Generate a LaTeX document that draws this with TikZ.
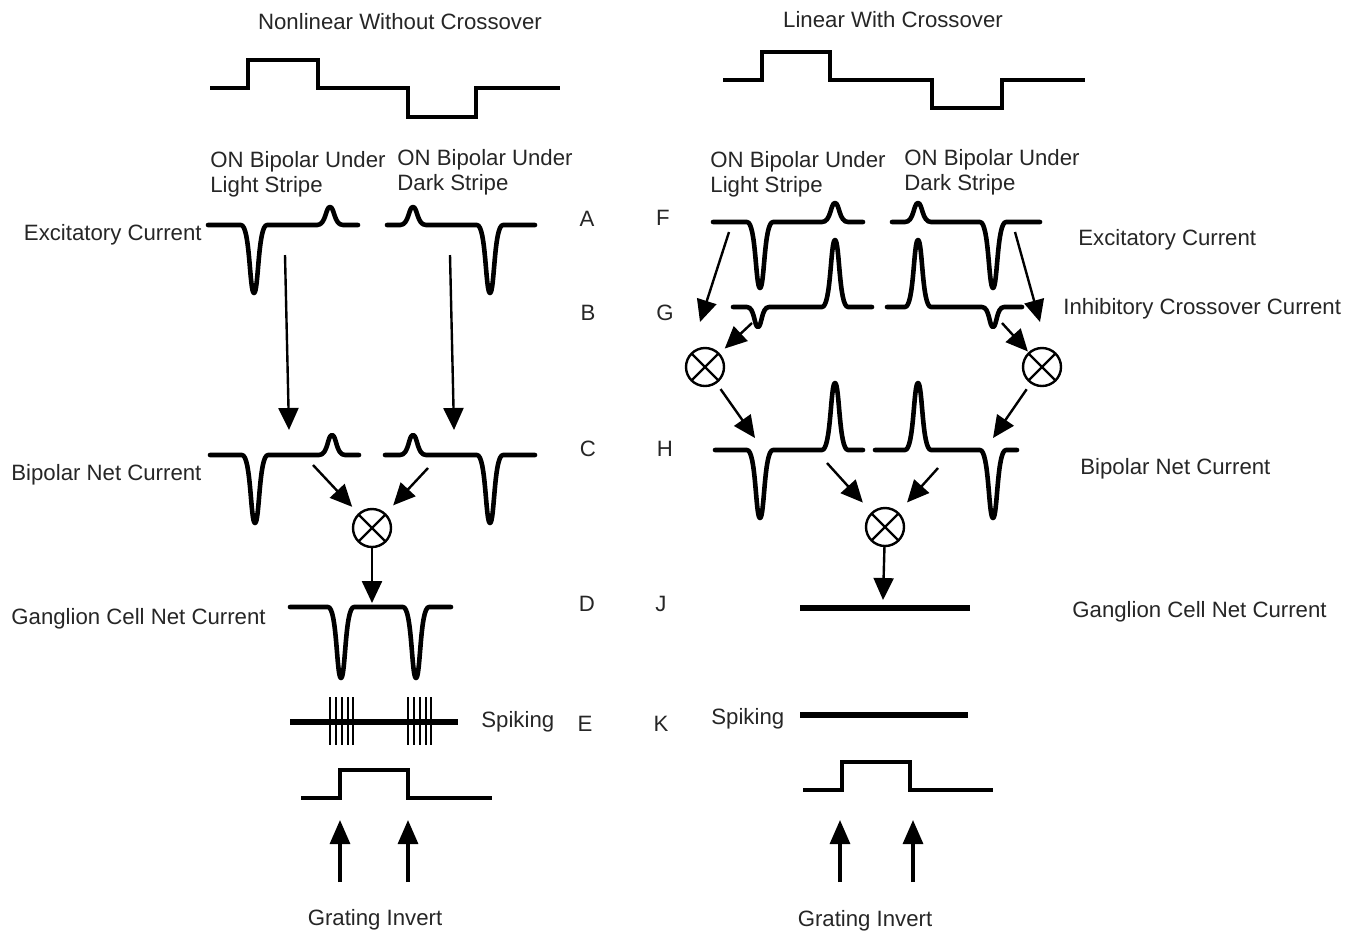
\documentclass[tikz,border=0pt]{standalone}
\usepackage{fontspec}
\setmainfont{Liberation Sans}
\usetikzlibrary{arrows.meta}
\newcommand\wv[4]{-- ({#1-#4},#2) .. controls ({#1-0.3*#4},#2) and ({#1-0.35*#4},#3) .. (#1,#3) .. controls ({#1+0.35*#4},#3) and ({#1+0.3*#4},#2) .. ({#1+#4},#2)}
\begin{document}
\begin{tikzpicture}[x=0.5pt,y=-0.5pt,
  trace/.style={line width=2.3pt,line join=round,line cap=round},
  stim/.style={line width=2pt,line join=miter},
  arr/.style={line width=1.2pt,-{Triangle[length=11pt,width=10pt]}},
  garr/.style={line width=1.6pt,-{Triangle[length=12pt,width=10pt]}},
  ox/.style={circle,draw,line width=1.2pt,minimum size=19pt,inner sep=0pt,outer sep=0pt},
  lbl/.style={font=\fontsize{11.1}{12.5}\selectfont,inner sep=0pt,text=black!85},
  lblw/.style={lbl,anchor=west,align=left}]
\fill[white] (0,0) rectangle (1358,934);
% titles
\node[lbl] (t1) at (400,22) {Nonlinear Without Crossover};
\node[lbl] (t2) at (893,20) {Linear With Crossover};
% stimuli
\draw[stim] (210,88) -- (248,88) -- (248,60) -- (318,60) -- (318,88) -- (408,88) -- (408,117) -- (476,117) -- (476,88) -- (560,88);
\draw[stim] (723,80) -- (762,80) -- (762,52) -- (830,52) -- (830,80) -- (932,80) -- (932,108) -- (1002,108) -- (1002,80) -- (1085,80);
% bipolar headers
\node[lblw] (h1) at (210,174) {ON Bipolar Under\\Light Stripe};
\node[lblw] (h2) at (397,172) {ON Bipolar Under\\Dark Stripe};
\node[lblw] (h3) at (710,174) {ON Bipolar Under\\Light Stripe};
\node[lblw] (h4) at (904,172) {ON Bipolar Under\\Dark Stripe};
% row letters
\node[lbl] (lA) at (587,219) {A};
\node[lbl] (lB) at (588,313) {B};
\node[lbl] (lC) at (588,449) {C};
\node[lbl] (lD) at (587,604) {D};
\node[lbl] (lE) at (585,724) {E};
\node[lbl] (lF) at (663,218) {F};
\node[lbl] (lG) at (665,313) {G};
\node[lbl] (lH) at (665,449) {H};
\node[lbl] (lJ) at (661,604) {J};
\node[lbl] (lK) at (661,724) {K};
% side labels
\node[lbl,anchor=east] (x1) at (202,235) {Excitatory Current};
\node[lbl,anchor=west] (x2) at (11,475) {Bipolar Net Current};
\node[lbl,anchor=west] (x3) at (11,619) {Ganglion Cell Net Current};
\node[lbl,anchor=west] (x4) at (1078,240) {Excitatory Current};
\node[lbl,anchor=west] (x5) at (1063,309) {Inhibitory Crossover Current};
\node[lbl,anchor=west] (x6) at (1080,469) {Bipolar Net Current};
\node[lbl,anchor=west] (x7) at (1072,612) {Ganglion Cell Net Current};
\node[lbl,anchor=west] (s1) at (481,722) {Spiking};
\node[lbl,anchor=west] (s2) at (711,719) {Spiking};
\node[lbl] (gi1) at (375,920) {Grating Invert};
\node[lbl] (gi2) at (865,921) {Grating Invert};
% ---- left traces
\draw[trace] (208,225) \wv{254}{225}{293}{13} \wv{330}{225}{207}{13} -- (358,225);
\draw[trace] (387,225) \wv{413}{225}{207}{13} \wv{490}{225}{293}{13} -- (535,225);
\draw[trace] (210,455) \wv{255}{455}{523}{13} \wv{332}{455}{435}{13} -- (359,455);
\draw[trace] (385,455) \wv{413}{455}{435}{13} \wv{490}{455}{523}{13} -- (535,455);
\draw[trace] (290,607) \wv{341}{607}{678}{13} \wv{416}{607}{678}{13} -- (451,607);
% spiking left
\draw[line width=2.6pt] (290,722) -- (458,722);
\foreach \sx in {330,336,342,348,353,408,414,420,426,431}
  \draw[line width=1.4pt] (\sx,697) -- (\sx,745);
% bottom pulse left
\draw[stim] (301,798) -- (340,798) -- (340,770) -- (408,770) -- (408,798) -- (492,798);
% ---- right traces
\draw[trace] (713,222) \wv{760}{222}{288}{13} \wv{835}{222}{203}{13} -- (863,222);
\draw[trace] (892,222) \wv{918}{222}{203}{13} \wv{993}{222}{288}{13} -- (1040,222);
\draw[trace] (733,307) \wv{758}{307}{327}{11} \wv{835}{307}{240}{13} -- (872,307);
\draw[trace] (887,307) \wv{918}{307}{240}{13} \wv{993}{307}{327}{11} -- (1022,307);
\draw[trace] (715,450) \wv{760}{450}{518}{13} \wv{835}{450}{383}{13} -- (863,450);
\draw[trace] (875,450) \wv{918}{450}{383}{13} \wv{993}{450}{518}{13} -- (1017,450);
% ganglion + spiking right
\draw[line width=3pt] (800,608) -- (970,608);
\draw[line width=2.6pt] (800,715) -- (968,715);
\draw[stim] (803,790) -- (842,790) -- (842,762) -- (910,762) -- (910,790) -- (993,790);
% ---- multipliers
\node[ox] (m1) at (372,528) {};
\node[ox] (m2) at (705,367) {};
\node[ox] (m3) at (1042,367) {};
\node[ox] (m4) at (885,527) {};
\foreach \m in {m1,m2,m3,m4}
  \draw[line width=1.2pt] (\m.45) -- (\m.225) (\m.135) -- (\m.315);
% ---- coordinates
\coordinate (a1s) at (285,255); \coordinate (a1e) at (289,430);
\coordinate (a2s) at (450,255); \coordinate (a2e) at (454,430);
\coordinate (c1s) at (313,465);
\coordinate (c2s) at (428,468);
\coordinate (d1) at (372,603);
\coordinate (f1s) at (729,232); \coordinate (f1e) at (700,322);
\coordinate (f2s) at (1015,232); \coordinate (f2e) at (1040,322);
\coordinate (g1s) at (752,323);
\coordinate (g2s) at (1002,323);
\coordinate (h1e) at (755,438);
\coordinate (h2e) at (993,438);
\coordinate (k1s) at (827,463);
\coordinate (k2s) at (938,468);
\coordinate (j1) at (883,600);
\coordinate (gl1s) at (340,882); \coordinate (gl1e) at (340,820);
\coordinate (gl2s) at (408,882); \coordinate (gl2e) at (408,820);
\coordinate (gr1s) at (840,882); \coordinate (gr1e) at (840,820);
\coordinate (gr2s) at (913,882); \coordinate (gr2e) at (913,820);
% ---- arrows
\draw[arr] (a1s) -- (a1e);
\draw[arr] (a2s) -- (a2e);
\draw[arr,shorten >=5pt] (c1s) -- (m1);
\draw[arr,shorten >=6pt] (c2s) -- (m1);
\draw[arr] (m1) -- (d1);
\draw[arr] (f1s) -- (f1e);
\draw[arr] (f2s) -- (f2e);
\draw[arr,shorten >=4pt] (g1s) -- (m2);
\draw[arr,shorten >=1pt] (g2s) -- (m3);
\draw[arr,shorten <=4pt] (m2) -- (h1e);
\draw[arr,shorten <=4pt] (m3) -- (h2e);
\draw[arr,shorten >=7pt] (k1s) -- (m4);
\draw[arr,shorten >=7pt] (k2s) -- (m4);
\draw[arr] (m4) -- (j1);
\draw[garr] (gl1s) -- (gl1e);
\draw[garr] (gl2s) -- (gl2e);
\draw[garr] (gr1s) -- (gr1e);
\draw[garr] (gr2s) -- (gr2e);
\end{tikzpicture}
\end{document}
